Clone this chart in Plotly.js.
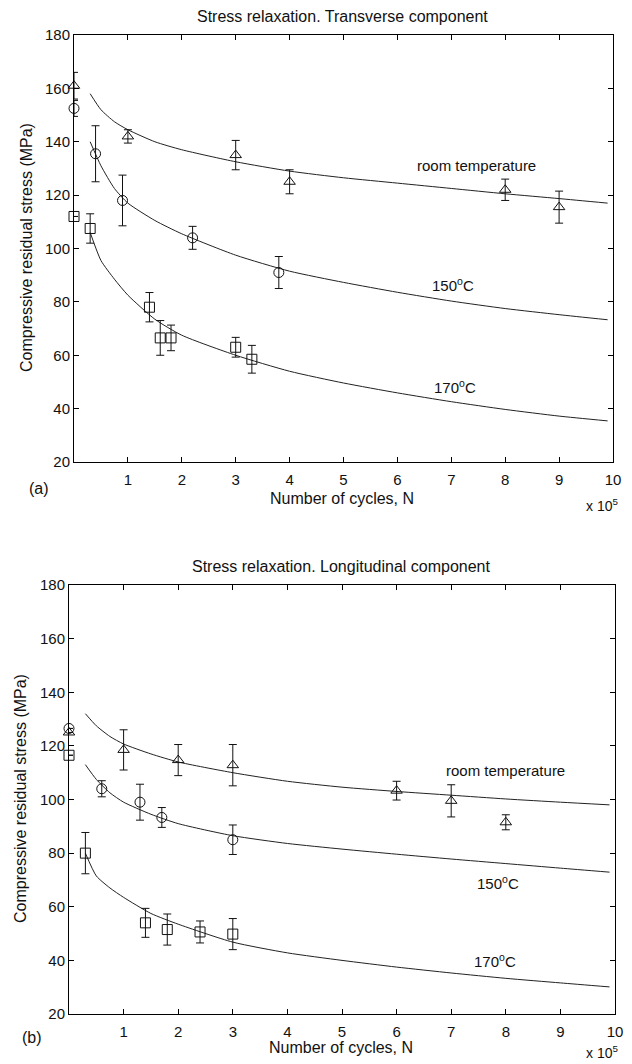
<!DOCTYPE html>
<html>
<head>
<meta charset="utf-8">
<script src="https://cdn.plot.ly/plotly-3.0.1.min.js"></script>
<style>
  html, body { margin: 0; padding: 0; background: #fff; }
  #chart { width: 632px; height: 1064px; }
</style>
</head>
<body>
<div id="chart"></div>
<script>
// ---------- DATA (x in units of 10^5 cycles, stress in MPa) ----------
// (a) Transverse component – measured points
const aRoomN = [0, 1, 3, 4, 8, 9];
const aRoomS = [161, 142, 135, 125, 122, 115.5];
const aRoomE = [5, 2.5, 5.5, 4.5, 4, 6];

const a150N = [0, 0.4, 0.9, 2.2, 3.8];
const a150S = [152.5, 135.5, 118, 104, 91];
const a150E = [3, 10.5, 9.5, 4.3, 6];

const a170N = [0, 0.3, 1.4, 1.6, 1.8, 3.0, 3.3];
const a170S = [112, 107.5, 78, 66.5, 66.5, 63, 58.5];
const a170E = [0, 5.5, 5.5, 6.5, 4.8, 3.7, 5.2];

// (a) fitted curves
const fitN = [0.3, 0.5, 0.75, 1, 1.5, 2, 3, 4, 5, 6, 7, 8, 9, 9.9];
const aRoomFit = [158, 152, 147.5, 144.5, 140, 137, 132.5, 129, 126.5, 124.5, 122.5, 120.5, 118.7, 117];
const a150Fit  = [140, 131, 122.5, 117, 110.5, 105.5, 97.5, 91.5, 87.3, 83.6, 80.3, 77.5, 75.2, 73.3];
const a170Fit  = [106, 95.5, 88.5, 82.5, 73.5, 67.5, 60, 54, 49.6, 45.9, 42.6, 39.7, 37.2, 35.4];

// (b) Longitudinal component – measured points
const bRoomN = [0, 1, 2, 3, 6, 7, 8];
const bRoomS = [125, 118.5, 114.7, 112.8, 103.3, 99.5, 91.5];
const bRoomE = [0, 7.5, 5.8, 7.7, 3.5, 6, 2.8];

const b150N = [0, 0.6, 1.3, 1.7, 3];
const b150S = [126.5, 104, 99, 93.3, 85];
const b150E = [0, 3, 6.7, 3.7, 5.5];

const b170N = [0, 0.3, 1.4, 1.8, 2.4, 3];
const b170S = [116.5, 80, 54, 51.5, 50.6, 49.8];
const b170E = [0, 7.7, 5.4, 5.8, 4.1, 5.8];

// (b) fitted curves
const bRoomFit = [132, 127.5, 123.5, 120.7, 117, 114, 110, 106.8, 104.6, 103, 101.6, 100.2, 99, 98];
const b150Fit  = [113, 107.5, 102.5, 99, 94.5, 91, 86.5, 83.6, 81.5, 79.6, 77.8, 76.1, 74.4, 72.9];
const b170Fit  = [80, 71.5, 67, 63.5, 57.5, 53.5, 46.8, 42.8, 40, 37.5, 35.3, 33.3, 31.6, 30.1];

// tick labels
const xTicks = [1, 2, 3, 4, 5, 6, 7, 8, 9, 10];
const yTicks = [20, 40, 60, 80, 100, 120, 140, 160, 180];

const titleA = 'Stress relaxation. Transverse component';
const titleB = 'Stress relaxation. Longitudinal component';
const xTitle = 'Number of cycles, N';
const yTitle = 'Compressive residual stress (MPa)';
const labelRoom = 'room temperature';
const label150 = '150<sup>o</sup>C';
const label170 = '170<sup>o</sup>C';

// ---------- helpers ----------
const W = 632, H = 1064;
const px = v => v / W;
const py = v => 1 - v / H;
const FONT = 'Liberation Sans, Arial, Helvetica, sans-serif';
const INK = '#111';

function pts(x, y, e, sym, xa, ya) {
  return {
    x: x, y: y, xaxis: xa, yaxis: ya, type: 'scatter', mode: 'markers',
    cliponaxis: false, showlegend: false,
    marker: { symbol: sym, size: 10, color: INK, line: { color: INK, width: 1 } },
    error_y: { type: 'data', array: e, visible: true, color: INK, thickness: 1, width: 4 }
  };
}
function fit(x, y, xa, ya) {
  return {
    x: x, y: y, xaxis: xa, yaxis: ya, type: 'scatter', mode: 'lines',
    showlegend: false, line: { color: '#222', width: 1, shape: 'spline', smoothing: 0.6 }
  };
}

const traces = [
  fit(fitN, aRoomFit, 'x', 'y'),
  fit(fitN, a150Fit, 'x', 'y'),
  fit(fitN, a170Fit, 'x', 'y'),
  pts(aRoomN, aRoomS, aRoomE, 'triangle-up-open', 'x', 'y'),
  pts(a150N, a150S, a150E, 'circle-open', 'x', 'y'),
  pts(a170N, a170S, a170E, 'square-open', 'x', 'y'),
  fit(fitN, bRoomFit, 'x2', 'y2'),
  fit(fitN, b150Fit, 'x2', 'y2'),
  fit(fitN, b170Fit, 'x2', 'y2'),
  pts(bRoomN, bRoomS, bRoomE, 'triangle-up-open', 'x2', 'y2'),
  pts(b150N, b150S, b150E, 'circle-open', 'x2', 'y2'),
  pts(b170N, b170S, b170E, 'square-open', 'x2', 'y2')
];

function xax(domain, anchor) {
  return {
    domain: domain, anchor: anchor, range: [0, 10], tickmode: 'array', tickvals: xTicks,
    ticktext: xTicks.map(String),
    ticks: 'inside', ticklen: 5, tickwidth: 1, tickcolor: '#000',
    showline: true, linecolor: '#000', linewidth: 1, mirror: 'ticks',
    showgrid: false, zeroline: false, ticklabelstandoff: 4,
    tickfont: { family: FONT, size: 15, color: INK }
  };
}
function yax(domain, anchor) {
  return {
    domain: domain, anchor: anchor, range: [20, 180], tickmode: 'array', tickvals: yTicks,
    ticktext: yTicks.map(String),
    ticks: 'inside', ticklen: 5, tickwidth: 1, tickcolor: '#000',
    showline: true, linecolor: '#000', linewidth: 1, mirror: 'ticks',
    showgrid: false, zeroline: false,
    tickfont: { family: FONT, size: 15, color: INK }
  };
}

function ann(text, x, y, opts) {
  return Object.assign({
    text: text, x: x, y: y, xref: 'paper', yref: 'paper', showarrow: false,
    xanchor: 'center', yanchor: 'middle', font: { family: FONT, size: 16, color: INK }
  }, opts || {});
}
function dann(text, x, y, xr, yr) {
  return {
    text: text, x: x, y: y, xref: xr, yref: yr, showarrow: false,
    xanchor: 'center', yanchor: 'middle', font: { family: FONT, size: 15, color: INK }
  };
}

const layout = {
  width: W, height: H,
  margin: { l: 0, r: 0, t: 0, b: 0, pad: 0 },
  paper_bgcolor: '#fff', plot_bgcolor: '#fff',
  showlegend: false,
  xaxis: xax([px(74), px(613)], 'y'),
  yaxis: yax([py(462), py(35)], 'x'),
  xaxis2: xax([px(69), px(615)], 'y2'),
  yaxis2: yax([py(1014), py(585)], 'x2'),
  annotations: [
    ann(titleA, px(342), py(17)),
    ann(titleB, px(341), py(566)),
    ann(xTitle, px(342), py(498)),
    ann(xTitle, px(341), py(1047)),
    ann(yTitle, px(27), py(248), { textangle: -90 }),
    ann(yTitle, px(20), py(799), { textangle: -90 }),
    ann('(a)', px(39), py(488)),
    ann('(b)', px(32), py(1037)),
    ann('x 10<sup>5</sup>', px(602), py(505), { font: { family: FONT, size: 14, color: INK } }),
    ann('x 10<sup>5</sup>', px(602), py(1052), { font: { family: FONT, size: 14, color: INK } }),
    dann(labelRoom, 7.47, 131, 'x', 'y'),
    dann(label150, 7.04, 86.4, 'x', 'y'),
    dann(label170, 7.07, 48.3, 'x', 'y'),
    dann(labelRoom, 7.99, 111, 'x2', 'y2'),
    dann(label150, 7.86, 68.9, 'x2', 'y2'),
    dann(label170, 7.8, 40, 'x2', 'y2')
  ]
};

Plotly.newPlot('chart', traces, layout, { displayModeBar: false, staticPlot: true });
</script>
</body>
</html>
